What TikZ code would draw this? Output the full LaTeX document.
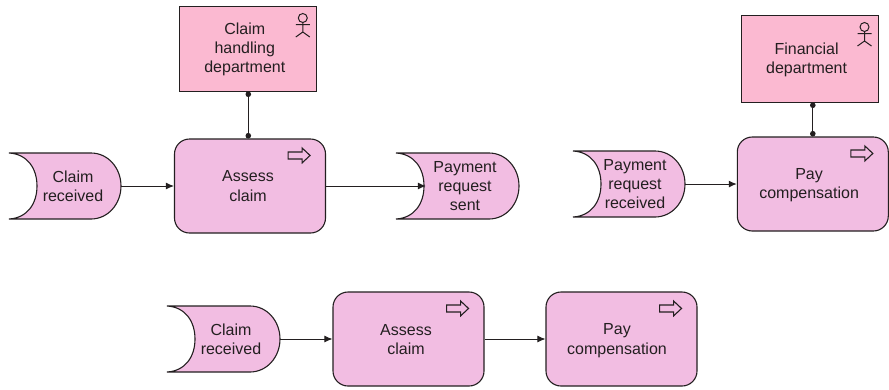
\documentclass[tikz,border=0pt]{standalone}
\usepackage{fontspec}
\setmainfont{Liberation Sans}
\usetikzlibrary{arrows.meta}

\definecolor{rolepink}{HTML}{FBB9D1}
\definecolor{taskpink}{HTML}{F2BDE2}
\definecolor{inkgrey}{HTML}{231F20}

\tikzset{
  boxtext/.style={align=center, text=inkgrey, font=\fontsize{16}{19.3}\selectfont},
  rolebox/.style={draw=inkgrey, line width=1pt, fill=rolepink, minimum width=137pt, minimum height=85pt},
  taskbox/.style={draw=inkgrey, line width=1.1pt, fill=taskpink, rounded corners=15pt, minimum width=151pt, minimum height=94pt},
  eventtext/.style={boxtext, minimum height=66pt, inner sep=0pt},
  eventfill/.style={draw=inkgrey, line width=1.1pt, fill=taskpink},
  flow/.style={-{Latex[length=8pt,width=7pt]}, line width=0.95pt, inkgrey},
  link/.style={{Circle[length=5.5pt,width=5.5pt]}-{Circle[length=5.5pt,width=5.5pt]}, line width=1.2pt, inkgrey},
  taskarrow/.pic={
    \draw[inkgrey, line width=1.1pt] (-11,-3.5) -- (3,-3.5) -- (3,-7.5) -- (11,0) -- (3,7.5) -- (3,3.5) -- (-11,3.5) -- cycle;
  },
  actor/.pic={
    \draw[inkgrey, line width=1pt] (0,-9) circle [radius=4.5pt];
    \draw[inkgrey, line width=1pt] (0,-4.5) -- (0,5) (-7,-2.5) -- (7,-2.5) (-7,10) -- (0,5) -- (7,10);
  }
}

% name, left, right, y, text centre, text
\newcommand{\eventbox}[6]{%
  \pgfmathsetmacro{\evw}{#3-#2}
  \pgfmathsetmacro{\evh}{#3-#5}
  \draw[eventfill, shift={(#2,#4)}] (0,-33) .. controls (18,-32) and (28,-18) .. (28,0)
    .. controls (28,18) and (18,32) .. (0,33) -- (\evw-30,33)
    .. controls (\evw-13,33) and (\evw,18) .. (\evw,0)
    .. controls (\evw,-18) and (\evw-13,-33) .. (\evw-30,-33) -- cycle;
  \node[eventtext, minimum width=2*\evh] (#1) at (#5,#4) {#6};
}

\begin{document}
\begin{tikzpicture}[x=1pt,y=-1pt]
  \useasboundingbox (0,0) rectangle (889,389);

  % claim handling
  \node[rolebox, label={[boxtext, xshift=-3.5pt, yshift=-1pt]center:{Claim\\handling\\department}}] (rolea) at (248.3,48.5) {};
  \node[taskbox, label={[boxtext, xshift=-2pt]center:{Assess\\claim}}] (assessa) at (250,186) {};
  \eventbox{claima}{9}{121}{186}{73}{Claim\\received}
  \eventbox{sent}{396}{519}{186}{465}{Payment\\request\\sent}

  % compensation
  \node[rolebox, minimum height=87pt, label={[boxtext, xshift=-3.4pt, yshift=-1.5pt]center:{Financial\\department}}] (roleb) at (810,58.5) {};
  \node[taskbox, label={[boxtext, xshift=-3.7pt, yshift=-1pt]center:{Pay\\compensation}}] (paya) at (812.8,184) {};
  \eventbox{received}{573}{685}{184}{635}{Payment\\request\\received}

  % merged process
  \node[taskbox, label={[boxtext, xshift=-2.5pt, yshift=-0.5pt]center:{Assess\\claim}}] (assessb) at (408.5,339) {};
  \node[taskbox, label={[boxtext, xshift=-4.5pt, yshift=-1.5pt]center:{Pay\\compensation}}] (payb) at (621.5,339) {};
  \eventbox{claimb}{167}{280}{339}{231}{Claim\\received}

  \foreach \task in {assessa,paya,assessb,payb}
    \pic at ([shift={(-27,17)}]\task.north east) {taskarrow};
  \foreach \role in {rolea,roleb}
    \pic at ([shift={(-14.5,21.5)}]\role.north east) {actor};

  \draw[link] (rolea.south) -- (rolea.south |- assessa.north);
  \draw[link] (paya.north |- roleb.south) -- (paya.north);

  \draw[flow] (claima) -- (assessa);
  \draw[flow, shorten >=-15pt] (assessa) -- (sent);
  \draw[flow] (received) -- (paya);
  \draw[flow] (claimb) -- (assessb);
  \draw[flow] (assessb) -- (payb);
\end{tikzpicture}
\end{document}
